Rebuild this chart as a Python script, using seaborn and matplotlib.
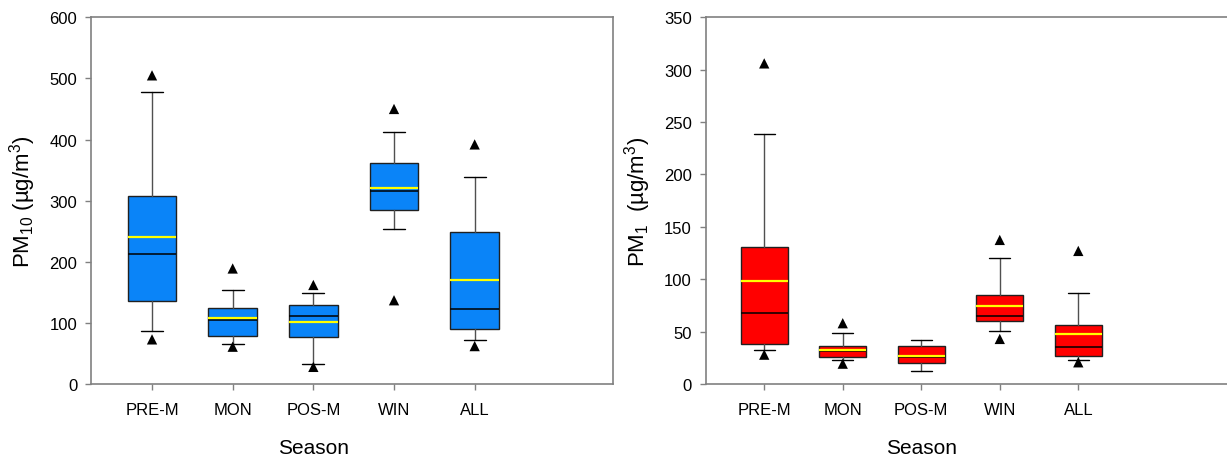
import numpy as np
import matplotlib
matplotlib.use("Agg")
import matplotlib.pyplot as plt
import seaborn as sns

seasons = ["PRE-M", "MON", "POS-M", "WIN", "ALL"]

# PM10 (ug/m3): 5th, 10th, 25th, median, mean, 75th, 90th, 95th percentiles
pm10_p5 = [73, 61, 28, 137, 62]
pm10_p10 = [87, 65, 32, 254, 72]
pm10_q1 = [135, 79, 77, 284, 90]
pm10_med = [213, 105, 111, 316, 122]
pm10_mean = [241, 108, 101, 320, 170]
pm10_q3 = [308, 124, 129, 361, 249]
pm10_p90 = [478, 154, 149, 413, 338]
pm10_p95 = [505, 189, 162, 450, 392]

# PM1 (ug/m3)
pm1_p5 = [28, 19.4, np.nan, 43, 20.7]
pm1_p10 = [32, 22.6, 12.1, 50.6, 22.6]
pm1_q1 = [38, 25.5, 20, 59.8, 27]
pm1_med = [68, 31.2, 26.2, 64.9, 35]
pm1_mean = [98, 32.4, 26.7, 74.5, 48]
pm1_q3 = [131, 36.6, 36, 85, 56]
pm1_p90 = [239, 49, 42, 120.6, 87]
pm1_p95 = [306, 58, np.nan, 137.5, 127]

sns.set_style("white")
plt.rcParams["font.family"] = ["Liberation Sans", "DejaVu Sans"]
plt.rcParams["mathtext.default"] = "regular"
plt.rcParams["axes.labelcolor"] = "black"
plt.rcParams["text.color"] = "black"

fig = plt.figure(figsize=(12.27, 4.64), dpi=100)
ax1 = fig.add_axes([0.0742, 0.1703, 0.4254, 0.7903])
ax2 = fig.add_axes([0.5751, 0.1703, 0.4249, 0.7903])

pos = np.arange(1, len(seasons) + 1)


def draw_panel(ax, p5, p10, q1, med, mean, q3, p90, p95, color, ymax, step, ylabel, xlim):
    stats = []
    for i, s in enumerate(seasons):
        stats.append(dict(label=s, whislo=p10[i], q1=q1[i], med=med[i],
                          mean=mean[i], q3=q3[i], whishi=p90[i], fliers=[]))
    ax.bxp(stats, positions=pos, widths=0.6, capwidths=0.27,
           patch_artist=True, showmeans=True, meanline=True,
           boxprops=dict(facecolor=color, edgecolor="#202020", linewidth=1.0),
           medianprops=dict(color="black", linewidth=1.1),
           meanprops=dict(color="#ffff00", linestyle="-", linewidth=1.6),
           whiskerprops=dict(color="#505050", linewidth=1.0),
           capprops=dict(color="black", linewidth=1.0))
    sns.scatterplot(x=pos, y=p95, marker="^", color="black", s=55,
                    edgecolor="none", ax=ax, zorder=5)
    sns.scatterplot(x=pos, y=p5, marker="^", color="black", s=55,
                    edgecolor="none", ax=ax, zorder=5)
    ax.set_xlim(*xlim)
    ax.set_ylim(0, ymax)
    ax.set_yticks(np.arange(0, ymax + 1, step))
    ax.set_xticks(pos)
    ax.set_xticklabels(seasons)
    ax.set_xlabel("Season", fontsize=15, labelpad=15, color="black")
    # the Season title sits under the middle category, not the axes centre
    ax.xaxis.label.set_x((pos[2] - xlim[0]) / (xlim[1] - xlim[0]))
    ax.set_ylabel(ylabel, fontsize=16, labelpad=8, color="black")
    for sp in ax.spines.values():
        sp.set_color("#808080")
        sp.set_linewidth(1.2)
    ax.tick_params(axis="both", labelsize=12, colors="#808080",
                   labelcolor="black", length=4, width=1.0, direction="out")
    ax.tick_params(axis="x", pad=9)
    ax.tick_params(axis="y", pad=6)
    ax.tick_params(bottom=True, left=True, top=False, right=False)


draw_panel(ax1, pm10_p5, pm10_p10, pm10_q1, pm10_med, pm10_mean, pm10_q3,
           pm10_p90, pm10_p95, "#0a84f8", 600, 100,
           "PM$_{10}$ (\u00b5g/m$^3$)", (0.244, 6.715))
draw_panel(ax2, pm1_p5, pm1_p10, pm1_q1, pm1_med, pm1_mean, pm1_q3,
           pm1_p90, pm1_p95, "#ff0000", 350, 50,
           "PM$_1$  (\u00b5g/m$^3$)", (0.254, 6.894))
ax2.spines["right"].set_visible(False)

fig.savefig("out.png", dpi=100)
